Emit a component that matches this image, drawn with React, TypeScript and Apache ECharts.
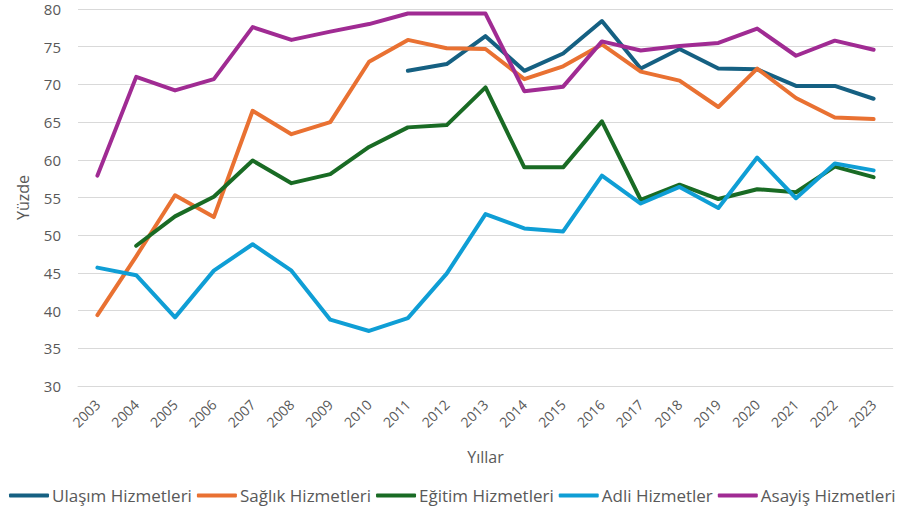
import React, { useEffect, useRef } from "react";
import * as echarts from "echarts";

const years = ["2003","2004","2005","2006","2007","2008","2009","2010","2011","2012","2013","2014","2015","2016","2017","2018","2019","2020","2021","2022","2023"];

const ulasim = [null,null,null,null,null,null,null,null,71.8,72.7,76.4,71.8,74.1,78.4,72.1,74.7,72.1,72.0,69.8,69.8,68.1];
const saglik = [39.4,47.2,55.3,52.4,66.5,63.4,65.0,73.0,75.9,74.8,74.7,70.7,72.4,75.3,71.7,70.5,67.0,72.1,68.2,65.6,65.4];
const egitim = [null,48.6,52.5,55.1,59.9,56.9,58.1,61.7,64.3,64.6,69.6,59.0,59.0,65.1,54.7,56.7,54.8,56.1,55.7,59.1,57.7];
const adli = [45.7,44.7,39.1,45.3,48.8,45.3,38.8,37.3,39.0,44.9,52.8,50.9,50.5,57.9,54.2,56.4,53.6,60.3,54.9,59.5,58.6];
const asayis = [57.9,71.0,69.2,70.7,77.6,75.9,77.0,78.0,79.4,79.4,79.4,69.1,69.7,75.7,74.5,75.1,75.5,77.4,73.8,75.8,74.6];

const seriesNames = ["Ulaşım Hizmetleri","Sağlık Hizmetleri","Eğitim Hizmetleri","Adli Hizmetler","Asayiş Hizmetleri"];
const seriesData = [ulasim, saglik, egitim, adli, asayis];
const colors = ["#156082","#E97132","#196B24","#0F9ED5","#A02B93"];

const FONT = "'Open Sans', 'Liberation Sans', sans-serif";
const TXT = "#595959";

export default function App() {
  const ref = useRef<HTMLDivElement>(null);
  useEffect(() => {
    if (!ref.current) return;
    const chart = echarts.init(ref.current, null, { renderer: "svg" });
    chart.setOption({
      animation: false,
      color: colors,
      textStyle: { fontFamily: FONT },
      grid: { left: 78, right: 10, top: 9, bottom: 124, containLabel: false },
      legend: {
        left: 4,
        top: 482,
        itemWidth: 40,
        itemHeight: 4,
        itemGap: 5,
        icon: "roundRect",
        textStyle: { color: TXT, fontSize: 17, fontFamily: FONT, padding: [0, 0, 0, -2] },
        data: seriesNames,
      },
      xAxis: {
        type: "category",
        data: years,
        boundaryGap: true,
        name: "Yıllar",
        nameLocation: "middle",
        nameGap: 63,
        nameTextStyle: { color: TXT, fontSize: 16, fontFamily: FONT },
        axisLine: { show: true, lineStyle: { color: "#d9d9d9", width: 1 } },
        axisTick: { show: false },
        axisLabel: { rotate: 45, color: TXT, fontSize: 14, margin: 16, fontFamily: FONT },
      },
      yAxis: {
        type: "value",
        min: 30,
        max: 80,
        interval: 5,
        name: "Yüzde",
        nameLocation: "middle",
        nameGap: 47,
        nameRotate: 90,
        nameTextStyle: { color: TXT, fontSize: 16, fontFamily: FONT },
        axisLine: { show: false },
        axisTick: { show: false },
        axisLabel: { color: TXT, fontSize: 15, margin: 17, fontFamily: FONT },
        splitLine: { lineStyle: { color: "#d9d9d9", width: 1 } },
      },
      series: seriesNames.map((n, i) => ({
        name: n,
        type: "line",
        data: seriesData[i].map((v) => (v === null ? "-" : v)),
        symbol: "none",
        connectNulls: false,
        lineStyle: { width: 4, color: colors[i], cap: "round", join: "round" },
        itemStyle: { color: colors[i] },
      })),
    });
    return () => chart.dispose();
  }, []);
  return <div ref={ref} style={{ width: 903, height: 510, position: "absolute", left: 0, top: 0 }} />;
}
